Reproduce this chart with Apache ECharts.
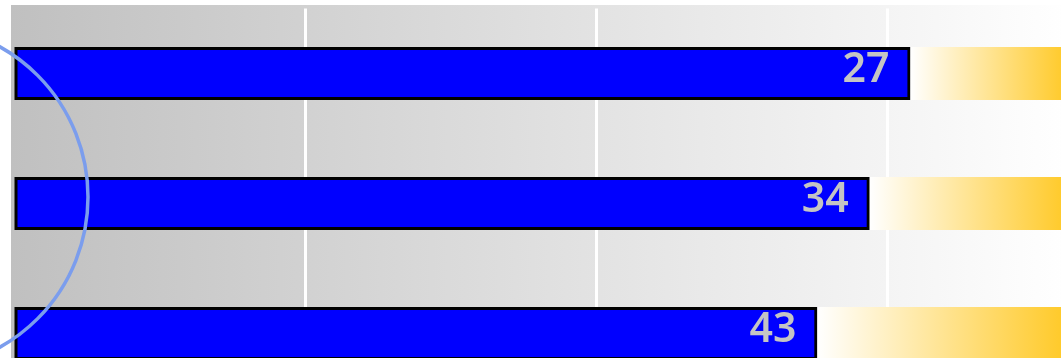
<!DOCTYPE html>
<html>
<head>
<meta charset="utf-8">
<script src="https://cdn.jsdelivr.net/npm/echarts@6/dist/echarts.min.js"></script>
<style>
html,body{margin:0;padding:0;background:#fff;overflow:hidden;width:1061px;height:358px;}
#chart{width:1080px;height:410px;}
</style>
</head>
<body>
<div id="chart"></div>
<script>
// ---- data ----
var categories = ['A', 'B', 'C'];
var blueValues = [154, 147, 138];
var yellowValues = [27, 34, 43];
var xTicks = [0, 50, 100, 150];

var chart = echarts.init(document.getElementById('chart'), null, {renderer: 'canvas'});

var bgGrad = new echarts.graphic.LinearGradient(0, 0, 1, 0, [
  {offset: 0, color: '#c0c0c0'},
  {offset: 1, color: '#ffffff'}
]);
var yellowGrad = function () {
  return new echarts.graphic.LinearGradient(0, 0, 1, 0, [
    {offset: 0, color: '#ffffff'},
    {offset: 1, color: '#ffc926'}
  ]);
};

var option = {
  animation: false,
  grid: {
    show: true,
    left: 14.5,
    top: 8.5,
    width: 1053,
    height: 390,
    backgroundColor: bgGrad,
    borderColor: bgGrad,
    borderWidth: 7,
    containLabel: false
  },
  xAxis: {
    type: 'value',
    min: xTicks[0],
    max: 'dataMax',
    interval: xTicks[1] - xTicks[0],
    axisLine: {show: false},
    axisTick: {show: false},
    axisLabel: {show: false},
    splitLine: {
      show: true,
      showMinLine: false,
      showMaxLine: false,
      lineStyle: {color: '#ffffff', width: 3}
    }
  },
  yAxis: {
    type: 'category',
    data: categories,
    inverse: true,
    show: false
  },
  series: [
    {
      type: 'bar',
      stack: 'total',
      data: blueValues,
      barWidth: 53,
      itemStyle: {color: '#0000ff', borderColor: '#000000', borderWidth: 3},
      z: 2
    },
    {
      type: 'bar',
      stack: 'total',
      data: yellowValues,
      barWidth: 53,
      itemStyle: {color: yellowGrad(), borderColor: yellowGrad(), borderWidth: 3},
      label: {
        show: true,
        position: 'left',
        distance: 21,
        offset: [0, -3],
        color: '#c4c4c4',
        fontSize: 41,
        fontWeight: 600,
        fontFamily: 'Noto Sans'
      },
      z: 3
    }
  ],
  graphic: [
    {
      type: 'circle',
      z: 100,
      silent: true,
      shape: {cx: -84, cy: 197, r: 172},
      style: {fill: 'none', stroke: '#7b9ded', lineWidth: 3.5}
    }
  ]
};
chart.setOption(option);
</script>
</body>
</html>
